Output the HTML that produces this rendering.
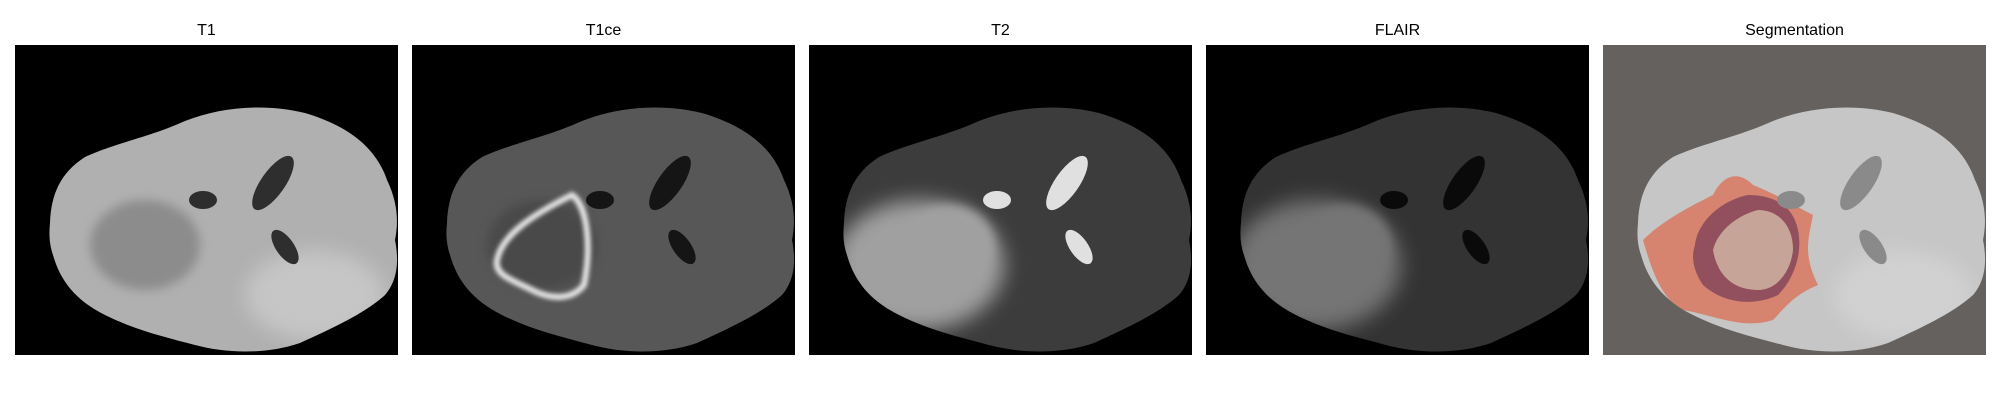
<!DOCTYPE html>
<html><head><meta charset="utf-8"><style>
html,body{margin:0;padding:0;background:#fff;width:2000px;height:400px;overflow:hidden}
text{font-family:"Liberation Sans","DejaVu Sans",sans-serif}
</style></head><body>
<svg id="fig" width="2000" height="400" viewBox="0 0 2000 400" xmlns="http://www.w3.org/2000/svg">
<defs>
<filter id="blur2" x="-50%" y="-50%" width="200%" height="200%"><feGaussianBlur stdDeviation="2"/></filter>
<filter id="blur5" x="-50%" y="-50%" width="200%" height="200%"><feGaussianBlur stdDeviation="5"/></filter>
<filter id="blur10" x="-50%" y="-50%" width="200%" height="200%"><feGaussianBlur stdDeviation="10"/></filter>
</defs>
</svg>
<script>
const titles = ["T1","T1ce","T2","FLAIR","Segmentation"];
const panelX = [15,412,809,1206,1603];
const svg = document.getElementById('fig');
const NS = "http://www.w3.org/2000/svg";
const brainPath = "M35,178 C36,150 45,128 70,112 C100,98 135,92 170,76 C205,62 250,58 290,68 C330,80 360,100 372,135 C384,160 383,180 380,195 C384,215 383,235 370,250 C350,268 320,282 285,298 C250,310 210,308 180,300 C150,292 120,285 90,270 C60,255 45,235 38,210 C34,198 34,188 35,178 Z";
const styles = [
 {bg:"#000",brain:"#b0b0b0",vent:"#2e2e2e",tumor:"#8c8c8c",ring:null,lesion:null},
 {bg:"#000",brain:"#575757",vent:"#151515",tumor:"#4a4a4a",ring:"#e8e8e8",lesion:null},
 {bg:"#000",brain:"#3c3c3c",vent:"#e0e0e0",tumor:null,ring:null,lesion:"#a0a0a0"},
 {bg:"#000",brain:"#333",vent:"#0a0a0a",tumor:null,ring:null,lesion:"#747474"},
 {bg:"#65615e",brain:"#c6c6c6",vent:"#8a8a8a",tumor:null,ring:null,lesion:null}
];
function el(tag, attrs, parent){
  const e=document.createElementNS(NS,tag);
  for(const k in attrs) e.setAttribute(k,attrs[k]);
  (parent||svg).appendChild(e); return e;
}
titles.forEach((t,i)=>{
  const x0=panelX[i], s=styles[i];
  const tx=el('text',{x:x0+191.5,y:35,'text-anchor':'middle','font-size':'16',fill:'#000'});
  tx.textContent=t;
  
  
  const g=el('g',{transform:`translate(${x0},45)`});
  
  
  const cp=el('clipPath',{id:'c'+i},g); el('rect',{x:0,y:0,width:383,height:310},cp);
  const cg=el('g',{'clip-path':`url(#c${i})`},g);
  el('rect',{x:0,y:0,width:383,height:310,fill:s.bg},cg);
  const b=el('path',{d:brainPath,fill:s.brain},cg);
  
  
  const bc=el('clipPath',{id:'b'+i},g); el('path',{d:brainPath},bc);
  const ig=el('g',{'clip-path':`url(#b${i})`},cg);
  if(i===0||i===4){
    el('ellipse',{cx:300,cy:250,rx:70,ry:45,fill:'#dcdcdc',opacity:0.5,filter:'url(#blur10)'},ig);
  }
  if(s.lesion){
    el('ellipse',{cx:110,cy:220,rx:85,ry:65,fill:s.lesion,filter:'url(#blur10)'},ig);
    el('ellipse',{cx:140,cy:200,rx:45,ry:40,fill:s.lesion,filter:'url(#blur5)'},ig);
  }
  if(s.tumor){
    el('ellipse',{cx:130,cy:200,rx:55,ry:45,fill:s.tumor,filter:'url(#blur5)'},ig);
  }
  if(s.ring){
    el('path',{d:"M85,215 C90,190 120,170 160,150 C175,160 180,200 172,240 C160,255 140,255 120,245 C100,235 82,230 85,215 Z",fill:'none',stroke:s.ring,'stroke-width':6,filter:'url(#blur2)'},ig);
  }
  if(i===4){
    el('path',{d:"M40,195 C60,175 90,160 110,150 C120,130 135,125 150,140 C175,150 190,160 210,170 C205,195 200,210 215,240 C190,250 180,265 170,275 C140,285 110,270 80,265 C60,255 50,230 40,195 Z",fill:'#d8775f',opacity:0.85},ig);
    el('path',{d:"M92,200 C95,175 120,155 145,150 C170,150 190,160 195,185 C200,210 190,235 175,250 C150,262 120,258 100,240 C90,225 88,212 92,200 Z",fill:'#8b4a5c',opacity:0.9},ig);
    el('path',{d:"M110,205 C115,185 135,170 155,165 C175,165 190,180 190,205 C188,225 175,245 155,245 C135,245 115,235 110,205 Z",fill:'#c9a99a',opacity:0.95},ig);
  }
  el('ellipse',{cx:258,cy:138,rx:32,ry:12,fill:s.vent,transform:'rotate(-55 258 138)'},ig);
  el('ellipse',{cx:270,cy:202,rx:20,ry:9,fill:s.vent,transform:'rotate(55 270 202)'},ig);
  el('ellipse',{cx:188,cy:155,rx:14,ry:9,fill:s.vent},ig);
});
</script>
</body></html>
